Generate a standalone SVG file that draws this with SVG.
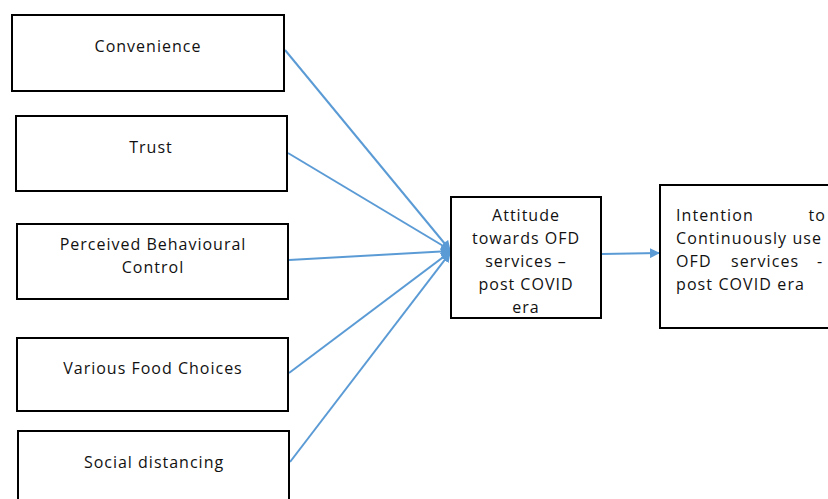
<svg xmlns="http://www.w3.org/2000/svg" width="828" height="499" viewBox="0 0 828 499">
<defs>
<style>
.box{fill:#fff;stroke:#000;stroke-width:2}
.t{font-family:"Open Sans","Liberation Sans",sans-serif;font-size:16px;fill:#111;text-anchor:middle;letter-spacing:1px}
.tl{font-family:"Open Sans","Liberation Sans",sans-serif;font-size:16px;fill:#111;letter-spacing:1.1px}
.c{stroke:#5B9BD5;stroke-width:2;fill:none}
</style>
<marker id="ah" viewBox="0 0 10 10" refX="9" refY="5" markerWidth="5" markerHeight="5" orient="auto" markerUnits="strokeWidth">
<path d="M0,0 L10,5 L0,10 z" fill="#5B9BD5"/>
</marker>
</defs>
<rect width="828" height="499" fill="#fff"/>
<g id="connectors">
<line class="c" x1="285" y1="50" x2="450" y2="250" marker-end="url(#ah)"/>
<line class="c" x1="288" y1="153" x2="450" y2="250" marker-end="url(#ah)"/>
<line class="c" x1="289" y1="260" x2="450" y2="251" marker-end="url(#ah)"/>
<line class="c" x1="289" y1="373" x2="450" y2="252" marker-end="url(#ah)"/>
<line class="c" x1="290" y1="462" x2="450" y2="253" marker-end="url(#ah)"/>
<line class="c" x1="602" y1="254" x2="659" y2="253" marker-end="url(#ah)"/>
</g>
<g id="convenience">
<rect class="box" x="12" y="15" width="272" height="76"/>
<text class="t" x="148" y="52">Convenience</text>
</g>
<g id="trust">
<rect class="box" x="16" y="116" width="271" height="75"/>
<text class="t" x="151" y="153">Trust</text>
</g>
<g id="pbc">
<rect class="box" x="17" y="224" width="271" height="75"/>
<text class="t" x="153" y="250">Perceived Behavioural</text>
<text class="t" x="153" y="273">Control</text>
</g>
<g id="vfc">
<rect class="box" x="17" y="338" width="271" height="73"/>
<text class="t" x="153" y="374">Various Food Choices</text>
</g>
<g id="social">
<rect class="box" x="18" y="431" width="271" height="75"/>
<text class="t" x="154" y="468">Social distancing</text>
</g>
<g id="attitude">
<rect class="box" x="451" y="197" width="150" height="121"/>
<text class="t" x="526" y="221">Attitude</text>
<text class="t" x="526" y="244">towards OFD</text>
<text class="t" x="526" y="267">services –</text>
<text class="t" x="526" y="290">post COVID</text>
<text class="t" x="526" y="313">era</text>
</g>
<g id="intention">
<rect class="box" x="660" y="185" width="180" height="143"/>
<text class="tl" x="676" y="221">Intention</text>
<text class="tl" x="826" y="221" text-anchor="end">to</text>
<text class="tl" x="676" y="244">Continuously use</text>
<text class="tl" x="676" y="267">OFD</text>
<text class="tl" x="731" y="267">services</text>
<text class="tl" x="817" y="267">-</text>
<text class="tl" x="676" y="290">post COVID era</text>
</g>
</svg>
